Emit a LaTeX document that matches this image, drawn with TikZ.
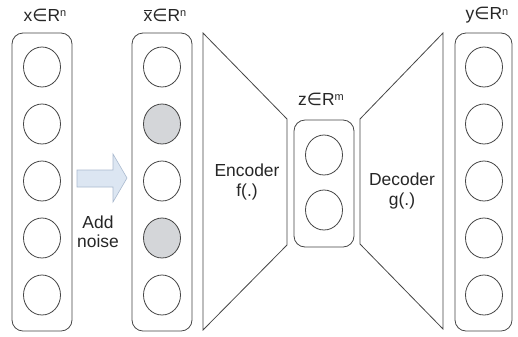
\documentclass[tikz,border=0pt]{standalone}
\usepackage{fontspec}
\setmainfont{Liberation Sans}
\newfontfamily\symfont{DejaVu Sans}
\usetikzlibrary{shapes.geometric}
\definecolor{linegray}{HTML}{454545}
\definecolor{noisegray}{HTML}{D4D6D9}
\definecolor{arrowfill}{HTML}{DCE6F2}
\definecolor{arrowline}{HTML}{A9B9CE}
\newcommand{\inR}[2]{#1{\symfont∈}R\raisebox{0.45ex}{\fontsize{11}{11}\selectfont #2}}
\tikzset{x=1bp, y=-1bp,
every node/.style={font=\fontsize{17.5}{21}\selectfont, text=black!85},
layer/.style={ % rounded box round one layer
draw=linegray, line width=0.8bp,
rectangle, rounded corners=11bp,
minimum width=60bp, minimum height=298bp},
unit/.style={ % one neuron
draw=linegray, line width=0.8bp,
ellipse, minimum width=37bp, minimum height=40bp, inner sep=0pt},
noisy/.style={unit, fill=noisegray},
net/.style={draw=linegray, line width=0.8bp}}

\begin{document}
\begin{tikzpicture}
\useasboundingbox (0,0) rectangle (518,336);
% input layer
\node[layer] (xbox) at (42,182) {};
\node[unit] (x1) at (42,67) {};
\node[unit] (x2) at (42,124) {};
\node[unit] (x3) at (42,181) {};
\node[unit] (x4) at (42,238) {};
\node[unit] (x5) at (42,295) {};
\node (xlabel) at (45,15) {\inR{x}{n}};
% corrupted input
\node[layer] (xtbox) at (162,182) {};
\node[unit] (xt1) at (162,67) {};
\node[noisy] (xt2) at (162,124) {};
\node[unit] (xt3) at (162,181) {};
\node[noisy] (xt4) at (162,238) {};
\node[unit] (xt5) at (162,295) {};
\node (xtlabel) at (165,15) {\inR{$\overline{\mbox{x}}$}{n}};
% add noise
\filldraw[fill=arrowfill, draw=arrowline, line width=0.6bp]
(77,170) -- (113,170) -- (113,154) -- (127,178) -- (113,202)
-- (113,187) -- (77,187) -- cycle;
\node[align=center] (noise) at (98,232) {Add\\[-2bp]noise};
% encoder
\draw[net] (203,33) -- (287,119) -- (287,245) -- (203,330) -- cycle;
\node[align=center] (enc) at (247,182) {Encoder\\f(.)};
% code layer
\node[layer, minimum height=127bp] (zbox) at (324,183.5) {};
\node[unit] (z1) at (324,155) {};
\node[unit] (z2) at (324,210) {};
\node (zlabel) at (321,99) {\inR{z}{m}};
% decoder
\draw[net] (360,119) -- (443,33) -- (443,329) -- (360,244) -- cycle;
\node[align=center] (dec) at (402,191) {Decoder\\g(.)};
% output layer
\node[layer, minimum width=57bp] (ybox) at (483.5,182) {};
\node[unit] (y1) at (484,67) {};
\node[unit] (y2) at (484,124) {};
\node[unit] (y3) at (484,181) {};
\node[unit] (y4) at (484,238) {};
\node[unit] (y5) at (484,295) {};
\node (ylabel) at (487,15) {\inR{y}{n}};
\end{tikzpicture}
\end{document}
